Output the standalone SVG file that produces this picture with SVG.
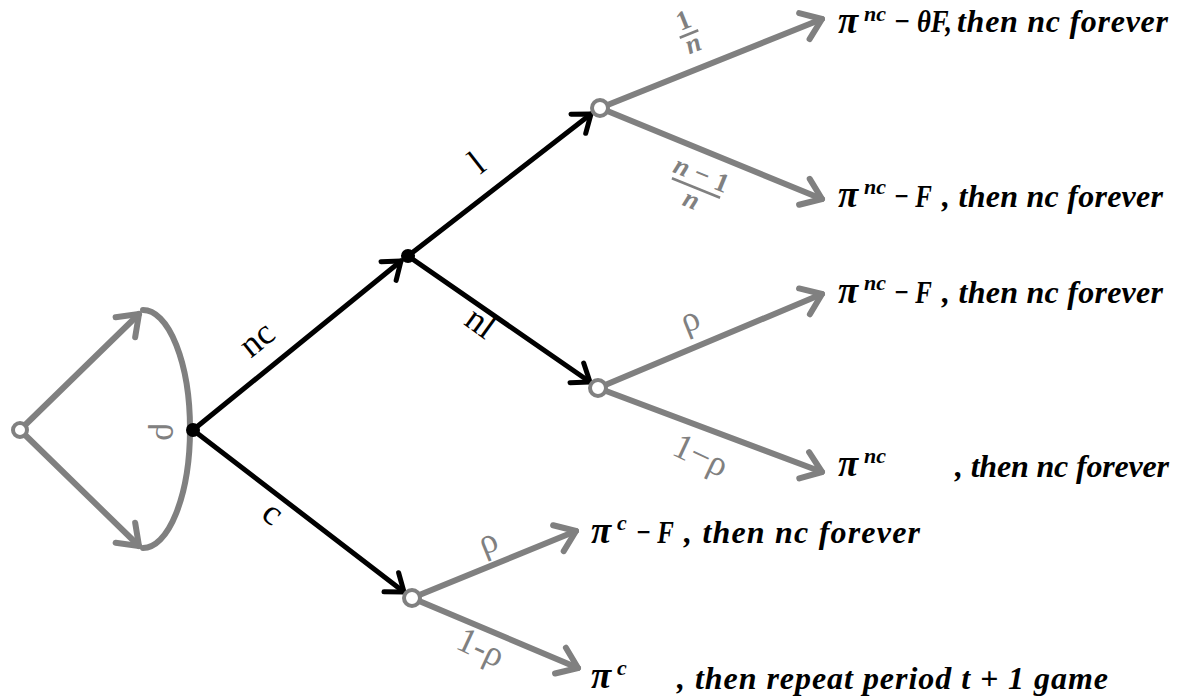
<svg xmlns="http://www.w3.org/2000/svg" width="1187" height="700" viewBox="0 0 1187 700">
  <style>
    .g { stroke: #808080; stroke-width: 6; fill: none; stroke-linecap: round; }
    .k { stroke: #000; stroke-width: 5; fill: none; stroke-linecap: round; }
    .open { fill: #fff; stroke: #808080; stroke-width: 4; }
    .dot { fill: #000; }
    .out { font-family: "Liberation Serif", "DejaVu Serif", serif; font-weight: bold; font-style: italic; font-size: 32px; fill: #000; }
    .pi { font-family: "Liberation Serif", "DejaVu Serif", serif; font-weight: bold; font-style: italic; font-size: 37px; fill: #000; }
    .sup { font-family: "Liberation Serif", "DejaVu Serif", serif; font-weight: bold; font-style: italic; font-size: 22px; fill: #000; }
    .lab { font-family: "Liberation Serif", "DejaVu Serif", serif; font-size: 36px; fill: #000; }
    .glab { font-family: "Liberation Serif", "DejaVu Serif", serif; font-size: 36px; fill: #808080; }
    .frac { font-family: "Liberation Serif", "DejaVu Serif", serif; font-size: 27px; font-weight: bold; fill: #808080; }
  </style>
  <defs>
    <marker id="ag" markerUnits="userSpaceOnUse" markerWidth="40" markerHeight="40" orient="auto" overflow="visible">
      <path d="M-19,-14 L0,0 L-19,14" fill="none" stroke="#808080" stroke-width="6" stroke-linecap="round" stroke-linejoin="round"/>
    </marker>
    <marker id="ak" markerUnits="userSpaceOnUse" markerWidth="40" markerHeight="40" orient="auto" overflow="visible">
      <path d="M-16,-12 L0,0 L-16,12" fill="none" stroke="#000" stroke-width="5" stroke-linecap="round" stroke-linejoin="round"/>
    </marker>
  </defs>

  <g id="connectors">
    <path class="g" d="M143,310 A47,119 0 0 1 143,548"/>
    <line class="g" x1="20" y1="430" x2="139" y2="314" marker-end="url(#ag)"/>
    <line class="g" x1="20" y1="430" x2="139" y2="546" marker-end="url(#ag)"/>
    <line class="k" x1="193" y1="430" x2="401" y2="261" marker-end="url(#ak)"/>
    <line class="k" x1="193" y1="430" x2="404" y2="592" marker-end="url(#ak)"/>
    <line class="k" x1="408" y1="256" x2="591" y2="114" marker-end="url(#ak)"/>
    <line class="k" x1="408" y1="256" x2="590" y2="382" marker-end="url(#ak)"/>
    <line class="g" x1="600" y1="108" x2="822" y2="19" marker-end="url(#ag)"/>
    <line class="g" x1="600" y1="108" x2="822" y2="199" marker-end="url(#ag)"/>
    <line class="g" x1="598" y1="388" x2="822" y2="294" marker-end="url(#ag)"/>
    <line class="g" x1="598" y1="388" x2="822" y2="472" marker-end="url(#ag)"/>
    <line class="g" x1="412" y1="598" x2="576" y2="531" marker-end="url(#ag)"/>
    <line class="g" x1="412" y1="598" x2="578" y2="668" marker-end="url(#ag)"/>

    <text class="glab" transform="translate(156,432) rotate(90)" text-anchor="middle">ρ</text>
    <text class="lab" transform="translate(264,348) rotate(-39)" text-anchor="middle">nc</text>
    <text class="lab" transform="translate(484,172) rotate(-38)" text-anchor="middle">l</text>
    <text class="lab" transform="translate(474,332) rotate(36)" text-anchor="middle">nl</text>
    <text class="lab" transform="translate(266,522) rotate(38)" text-anchor="middle">c</text>

    <g transform="translate(689,34) rotate(-22)">
      <text class="frac" x="0" y="-6" text-anchor="middle">1</text>
      <line x1="-10" y1="0" x2="10" y2="0" stroke="#808080" stroke-width="2.5"/>
      <text class="frac" x="0" y="19" text-anchor="middle" font-style="italic">n</text>
    </g>
    <g transform="translate(696,188) rotate(22)">
      <text class="frac" x="0" y="-6" text-anchor="middle"><tspan font-style="italic">n</tspan> − 1</text>
      <line x1="-26" y1="0" x2="26" y2="0" stroke="#808080" stroke-width="2.5"/>
      <text class="frac" x="0" y="21" text-anchor="middle" font-style="italic">n</text>
    </g>
    <text class="glab" transform="translate(694,330) rotate(-22)" text-anchor="middle">ρ</text>
    <text class="glab" transform="translate(696,466) rotate(25)" text-anchor="middle">1−ρ</text>
    <text class="glab" transform="translate(492,552) rotate(-22)" text-anchor="middle">ρ</text>
    <text class="glab" transform="translate(476,658) rotate(25)" text-anchor="middle">1-ρ</text>
  </g>

  <g id="nodes">
    <g id="n0"><circle class="open" cx="20" cy="430" r="7"/></g>
    <g id="n1"><circle class="dot" cx="193" cy="430" r="7"/></g>
    <g id="n2"><circle class="dot" cx="408" cy="256" r="7"/></g>
    <g id="n3"><circle class="open" cx="600" cy="108" r="8"/></g>
    <g id="n4"><circle class="open" cx="598" cy="388" r="8"/></g>
    <g id="n5"><circle class="open" cx="412" cy="598" r="8"/></g>
  </g>

  <g id="o1">
    <text class="pi" x="838" y="33">π</text><text class="sup" x="864" y="21">nc</text>
    <text class="out" x="894" y="32" textLength="58" lengthAdjust="spacingAndGlyphs">− θF,</text>
    <text class="out" x="957" y="32" textLength="211" lengthAdjust="spacing">then nc forever</text>
  </g>
  <g id="o2">
    <text class="pi" x="838" y="207">π</text><text class="sup" x="864" y="194">nc</text>
    <text class="out" x="894" y="207" textLength="38" lengthAdjust="spacingAndGlyphs">− F</text>
    <text class="out" x="942" y="207" textLength="221" lengthAdjust="spacing">, then nc forever</text>
  </g>
  <g id="o3">
    <text class="pi" x="838" y="303">π</text><text class="sup" x="864" y="290">nc</text>
    <text class="out" x="894" y="303" textLength="38" lengthAdjust="spacingAndGlyphs">− F</text>
    <text class="out" x="942" y="303" textLength="221" lengthAdjust="spacing">, then nc forever</text>
  </g>
  <g id="o4">
    <text class="pi" x="838" y="476">π</text><text class="sup" x="864" y="463">nc</text>
    <text class="out" x="955" y="477" textLength="214" lengthAdjust="spacing">, then nc forever</text>
  </g>
  <g id="o5">
    <text class="pi" x="591" y="543">π</text><text class="sup" x="617" y="530">c</text>
    <text class="out" x="636" y="543" textLength="38" lengthAdjust="spacingAndGlyphs">− F</text>
    <text class="out" x="684" y="543" textLength="236" lengthAdjust="spacing">, then nc forever</text>
  </g>
  <g id="o6">
    <text class="pi" x="591" y="688">π</text><text class="sup" x="617" y="675">c</text>
    <text class="out" x="677" y="689" textLength="431" lengthAdjust="spacing">, then repeat period t + 1 game</text>
  </g>
</svg>
